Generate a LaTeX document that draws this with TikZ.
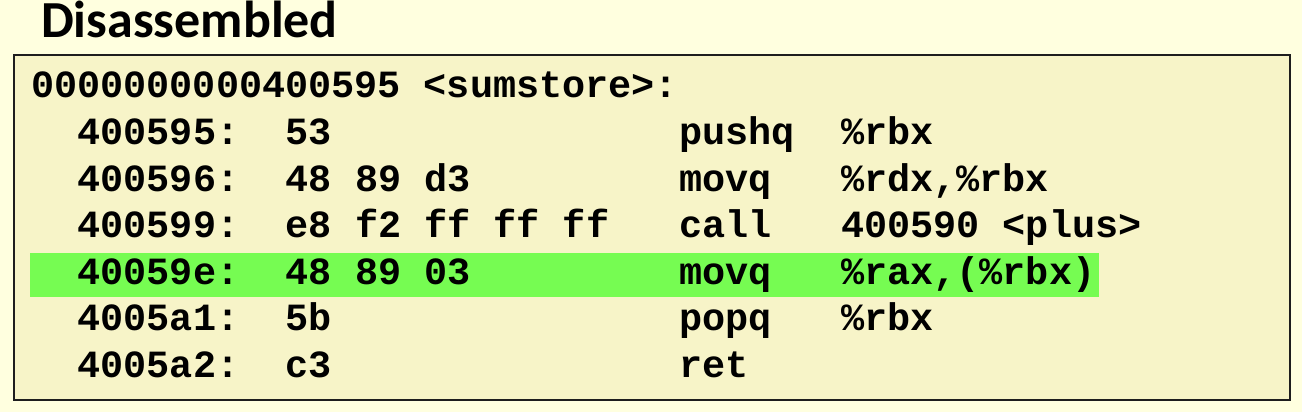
\documentclass[tikz,border=0pt]{standalone}
\usepackage{fontspec}
\setmonofont{Liberation Mono}
\newfontfamily\titlefont{Carlito}

\definecolor{pagebg}{RGB}{255,255,223}
\definecolor{boxbg}{RGB}{247,244,200}
\definecolor{boxline}{RGB}{30,30,30}
\definecolor{hilite}{RGB}{118,252,82}

\tikzset{
  code/.style={font=\ttfamily\bfseries\fontsize{38.5}{46}\selectfont, inner sep=0pt, anchor=base west},
  heading/.style={font=\titlefont\bfseries\fontsize{52}{62}\selectfont, inner sep=0pt, anchor=base west},
}

\begin{document}
\begin{tikzpicture}[x=1pt,y=-1pt]
    \useasboundingbox (0,0) rectangle (1302,412);
    \fill[pagebg] (0,0) rectangle (1302,412);

    \node[heading] (title) at (41,38) {Disassembled};

    \draw[boxline, line width=2.5pt, fill=boxbg] (14,55) rectangle (1290,400);
    \fill[hilite] (30,253) rectangle (1099,297);

    \node[code] (head) at (31,98) {0000000000400595 <sumstore>:};

    \foreach \addr/\bytes/\op/\arg [count=\i] in {
        400595:/53/pushq/\%rbx,
        400596:/48 89 d3/movq/{\%rdx,\%rbx},
        400599:/e8 f2 ff ff ff/call/400590 <plus>,
        40059e:/48 89 03/movq/{\%rax,(\%rbx)},
        4005a1:/5b/popq/\%rbx,
        4005a2:/c3/ret/{}}{
        \pgfmathsetmacro\yb{98+46.5*\i}
        \node[code] (addr\i) at (77.3,\yb) {\addr};
        \node[code] (hex\i) at (285.5,\yb) {\bytes};
        \node[code] (op\i) at (678.9,\yb) {\op};
        \node[code] (arg\i) at (840.9,\yb) {\arg};
    }
\end{tikzpicture}
\end{document}
